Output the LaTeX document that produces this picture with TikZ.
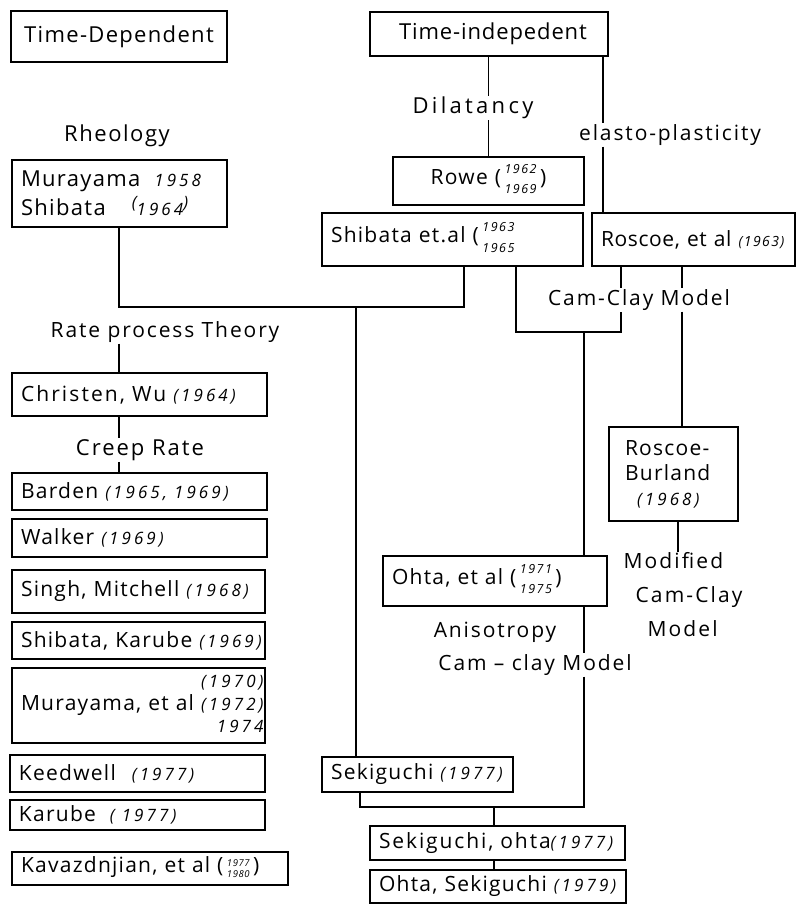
\documentclass[tikz,border=0pt]{standalone}
\usepackage{fontspec}
\setmainfont{Open Sans}
\newcommand\yr[1]{{\itshape\fontsize{17}{17}\selectfont\addfontfeatures{LetterSpace=18}#1}}
\newcommand\yrs[1]{{\itshape\fontsize{14}{14}\selectfont\addfontfeatures{LetterSpace=10}#1}}
\newcommand\yy[3][2pt]{{\itshape\fontsize{12.5}{12.5}\selectfont\addfontfeatures{LetterSpace=12}\begin{tabular}{@{}c@{}}#2\\[#1]#3\end{tabular}}}
\newcommand\yys[2]{{\itshape\fontsize{9.5}{10}\selectfont\begin{tabular}{@{}c@{}}#1\\[1pt]#2\end{tabular}}}
\begin{document}
\begin{tikzpicture}[x=1pt,y=-1pt,
  bx/.style={draw, line width=1.2pt, inner xsep=9pt, inner ysep=0pt, font={\fontsize{21}{24}\selectfont\addfontfeatures{LetterSpace=6}}},
  lb/.style={inner sep=1pt, font={\fontsize{21}{24}\selectfont\addfontfeatures{LetterSpace=9}}},
  ln/.style={line width=1.2pt}]
\useasboundingbox (0,0) rectangle (796,905);
% boxes
\node[bx, text width=198pt, minimum height=51pt, align=center, font={\fontsize{22}{24}\selectfont\addfontfeatures{LetterSpace=6}}] (td) at (119,36.5) {Time-Dependent};
\node[bx, text width=220pt, minimum height=44pt, align=center, font={\fontsize{22}{24}\selectfont\addfontfeatures{LetterSpace=4}}] (ti) at (489,34) {\hspace{8pt}Time-indepedent};
\node[bx, text width=197pt, minimum height=67pt, align=left, font={\fontsize{22}{29}\selectfont\addfontfeatures{LetterSpace=6}}] (mur) at (119.5,193.5) {\mbox{Murayama\hspace{14pt}\yr{1958}}\\\mbox{Shibata\hspace{26pt}\yr{\raisebox{7pt}{(}1964\raisebox{7pt}{)}}}};
\node[bx, text width=173pt, minimum height=48pt, align=center] (rowe) at (488.5,181) {\mbox{Rowe (\,\yy[7pt]{1962}{1969}\,)}};
\node[bx, text width=243pt, minimum height=53pt, align=left] (shi) at (452.5,239.5) {\mbox{Shibata et.al (\,\yy[8pt]{1963}{1965}}};
\node[bx, text width=185pt, minimum height=53pt, align=left, font={\fontsize{21}{24}\selectfont\addfontfeatures{LetterSpace=3}}] (ros) at (693.5,239.5) {\mbox{Roscoe, et al \yrs{(1963)}}};
\node[bx, text width=237pt, minimum height=43pt, align=left, font={\fontsize{21}{24}\selectfont\addfontfeatures{LetterSpace=10}}] (chr) at (139.5,394.5) {\mbox{Christen, Wu \yr{(1964)}}};
\node[bx, text width=237pt, minimum height=37pt, align=left] (bar) at (139.5,491.5) {\mbox{Barden \yr{(1965, 1969)}}};
\node[bx, text width=237pt, minimum height=38pt, align=left] (wal) at (139.5,538) {\mbox{Walker \yr{(1969)}}};
\node[bx, text width=235pt, minimum height=43pt, align=left] (sin) at (138.5,591.5) {\mbox{Singh, Mitchell \yr{(1968)}}};
\node[bx, text width=235pt, minimum height=37pt, align=left] (shk) at (138.5,640.5) {\mbox{Shibata, Karube \yr{(1969)}}};
\node[bx, text width=235pt, minimum height=75pt, align=left] (mue) at (138.5,705.5) {\renewcommand\arraystretch{0.92}\begin{tabular}{@{}r@{}}\yr{(1970)}\\Murayama, et al \yr{(1972)}\\\yr{1974}\hspace{12pt}\end{tabular}};
\node[bx, text width=237pt, minimum height=37pt, align=left] (kee) at (137.5,773.5) {\mbox{Keedwell\hspace{16pt}\yr{(1977)}}};
\node[bx, text width=237pt, minimum height=30pt, align=left] (kar) at (137.5,815) {\mbox{Karube\hspace{14pt}\yr{( 1977)}}};
\node[bx, text width=258pt, minimum height=33pt, align=left] (kav) at (150,868.5) {\mbox{Kavazdnjian, et al (\,\yys{1977}{1980}\,)}};
\node[bx, text width=97pt, inner xsep=16pt, minimum height=94pt, align=left, font={\fontsize{21}{25}\selectfont\addfontfeatures{LetterSpace=6}}] (rb) at (673.5,474) {Roscoe-\\Burland\\\hspace{12pt}\yr{(1968)}};
\node[bx, text width=206pt, minimum height=50pt, align=left] (oht) at (495,581) {\mbox{Ohta, et al (\,\yy[7pt]{1971}{1975}\,)}};
\node[bx, text width=173pt, minimum height=35pt, align=left] (sek) at (417.5,774.5) {\mbox{Sekiguchi \yr{(1977)}}};
\node[bx, text width=237pt, minimum height=34pt, align=left, font={\fontsize{21}{24}\selectfont\addfontfeatures{LetterSpace=9}}] (so) at (497.5,843) {\mbox{Sekiguchi, ohta\yr{(1977)}}};
\node[bx, text width=238pt, minimum height=33pt, align=left] (os) at (498,886.5) {\mbox{Ohta, Sekiguchi \yr{(1979)}}};
% labels
\node[lb, font={\fontsize{22}{24}\selectfont\addfontfeatures{LetterSpace=7}}] (rheo) at (117,136) {Rheology};
\node[lb, font={\fontsize{22}{24}\selectfont\addfontfeatures{LetterSpace=15}}] (dil) at (473,108) {Dilatancy};
\node[lb] (elas) at (670,135) {elasto-plasticity};
\node[lb] (cam) at (639,300) {Cam-Clay Model};
\node[lb] (rpt) at (165,332) {Rate process Theory};
\node[lb, font={\fontsize{22}{24}\selectfont\addfontfeatures{LetterSpace=9}}] (crp) at (140,450) {Creep Rate};
\node[lb, align=left, font={\fontsize{21}{34}\selectfont\addfontfeatures{LetterSpace=10}}] (mod) at (683,595) {Modified\\\hspace{12pt}Cam-Clay\\\hspace{24pt}Model};
\node[lb] (ani1) at (495,632) {Anisotropy};
\node[lb] (ani2) at (535,665) {Cam -- clay Model};
% junction coordinates
\coordinate (xe) at (603,0);
\coordinate (jl) at (119,307);
\coordinate (jm) at (356,307);
\coordinate (jr) at (464,307);
\coordinate (cl) at (516,332);
\coordinate (cm) at (584,332);
\coordinate (cr) at (621,332);
\coordinate (xr) at (682,0);
\coordinate (xm) at (678,0);
\coordinate (bl) at (360,807);
\coordinate (bm) at (494,807);
\coordinate (br) at (584,807);
% connectors
\draw[ln] (ti.south -| rowe.north) -- (dil.north -| rowe.north);
\draw[ln] (dil.south -| rowe.north) -- (rowe.north);
\draw[ln] (ti.south -| xe) -- (elas.north -| xe);
\draw[ln] (elas.south -| xe) -- (ros.north -| xe);
\draw[ln] (mur.south -| jl) -- (jl) -- (jr) -- (jr |- shi.south);
\draw[ln] (jl |- rpt.south) -- (jl |- chr.north);
\draw[ln] (jl |- chr.south) -- (jl |- crp.north);
\draw[ln] (jl |- crp.south) -- (jl |- bar.north);
\draw[ln] (jm) -- (jm |- sek.north);
\draw[ln] (cl |- shi.south) -- (cl) -- (cr) -- (cr |- cam.south);
\draw[ln] (cr |- ros.south) -- (cr |- cam.north);
\draw[ln] (cm) -- (cm |- oht.north);
\draw[ln] (xr |- ros.south) -- (xr |- cam.north);
\draw[ln] (xr |- cam.south) -- (xr |- rb.north);
\draw[ln] (xm |- rb.south) -- (xm |- mod.north);
\draw[ln] (cm |- oht.south) -- (cm |- ani2.north);
\draw[ln] (cm |- ani2.south) -- (br) -- (bl) -- (bl |- sek.south);
\draw[ln] (bm) -- (bm |- so.north);
\draw[ln] (bm |- so.south) -- (bm |- os.north);
\end{tikzpicture}
\end{document}
